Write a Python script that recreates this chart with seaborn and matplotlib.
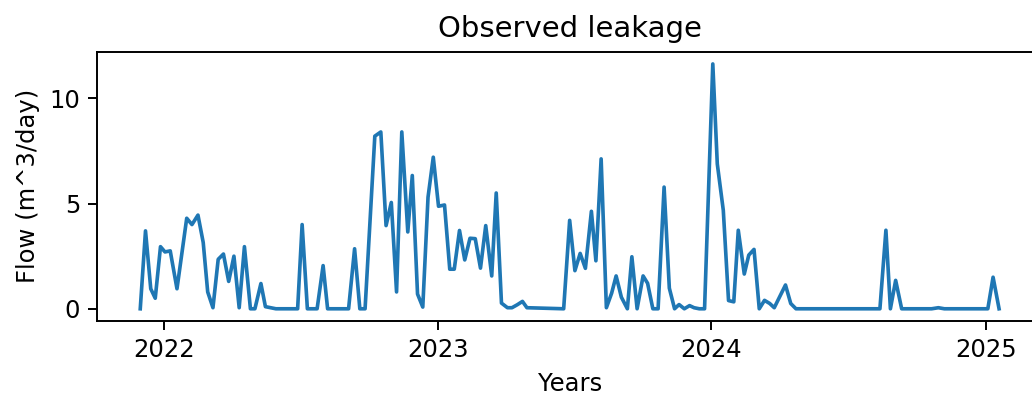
import matplotlib
matplotlib.use("Agg")
import matplotlib.pyplot as plt
import matplotlib.dates as mdates
import pandas as pd
import seaborn as sns

dates = [
    "2021-11-30", "2021-12-07", "2021-12-14", "2021-12-20", "2021-12-27",
    "2022-01-02", "2022-01-09", "2022-01-18", "2022-01-31", "2022-02-07",
    "2022-02-15", "2022-02-22", "2022-02-28", "2022-03-07", "2022-03-14",
    "2022-03-21", "2022-03-28", "2022-04-04", "2022-04-11", "2022-04-18",
    "2022-04-26", "2022-05-02", "2022-05-10", "2022-05-16", "2022-05-23",
    "2022-05-30", "2022-06-28", "2022-07-04", "2022-07-11", "2022-07-24",
    "2022-08-01", "2022-08-07", "2022-09-04", "2022-09-12", "2022-09-19",
    "2022-09-26", "2022-10-09", "2022-10-17", "2022-10-24", "2022-10-31",
    "2022-11-07", "2022-11-14", "2022-11-22", "2022-11-28", "2022-12-05",
    "2022-12-12", "2022-12-19", "2022-12-26", "2023-01-02", "2023-01-10",
    "2023-01-17", "2023-01-23", "2023-01-30", "2023-02-06", "2023-02-13",
    "2023-02-20", "2023-02-27", "2023-03-06", "2023-03-14", "2023-03-20",
    "2023-03-27", "2023-04-04", "2023-04-10", "2023-04-17", "2023-04-24",
    "2023-04-30", "2023-06-18", "2023-06-26", "2023-07-03", "2023-07-10",
    "2023-07-17", "2023-07-25", "2023-07-31", "2023-08-07", "2023-08-14",
    "2023-08-21", "2023-08-27", "2023-09-03", "2023-09-11", "2023-09-17",
    "2023-09-24", "2023-10-02", "2023-10-08", "2023-10-15", "2023-10-22",
    "2023-10-30", "2023-11-06", "2023-11-13", "2023-11-19", "2023-11-26",
    "2023-12-03", "2023-12-09", "2023-12-16", "2023-12-23", "2024-01-03",
    "2024-01-09", "2024-01-17", "2024-01-24", "2024-01-31", "2024-02-06",
    "2024-02-14", "2024-02-20", "2024-02-27", "2024-03-05", "2024-03-12",
    "2024-03-19", "2024-03-25", "2024-04-09", "2024-04-16", "2024-04-23",
    "2024-08-13", "2024-08-21", "2024-08-27", "2024-09-03", "2024-09-11",
    "2024-10-21", "2024-10-30", "2024-11-07", "2025-01-04", "2025-01-11",
    "2025-01-19",
]

flow = [
    0.0, 3.7, 0.95, 0.5, 2.95,
    2.7, 2.75, 0.95, 4.3, 4.0,
    4.45, 3.15, 0.8, 0.05, 2.35,
    2.6, 1.3, 2.5, 0.05, 2.95,
    0.0, 0.0, 1.2, 0.1, 0.05,
    0.0, 0.0, 4.0, 0.0, 0.0,
    2.05, 0.0, 0.0, 2.85, 0.0,
    0.0, 8.2, 8.4, 3.95, 5.05,
    0.8, 8.4, 3.65, 6.33, 0.7,
    0.08, 5.3, 7.2, 4.87, 4.93,
    1.88, 1.88, 3.72, 2.32, 3.35,
    3.33, 1.93, 3.95, 1.56, 5.5,
    0.27, 0.05, 0.05, 0.19, 0.35,
    0.05, 0.0, 4.2, 1.81, 2.63,
    1.92, 4.63, 2.28, 7.12, 0.05,
    0.74, 1.56, 0.55, 0.0, 2.47,
    0.0, 1.56, 1.21, 0.0, 0.0,
    5.78, 0.98, 0.0, 0.2, 0.0,
    0.15, 0.05, 0.0, 0.0, 11.63,
    6.88, 4.68, 0.39, 0.33, 3.73,
    1.65, 2.55, 2.82, 0.0, 0.4,
    0.25, 0.05, 1.13, 0.25, 0.0,
    0.0, 3.73, 0.0, 1.35, 0.0,
    0.0, 0.05, 0.0, 0.0, 1.5,
    0.0,
]

df = pd.DataFrame({"date": pd.to_datetime(dates), "flow": flow})

DPI = 175
fig = plt.figure(figsize=(1032 / DPI, 395 / DPI), dpi=DPI)
ax = fig.add_axes([0.0943, 0.1873, 1.0097 - 0.0943, 0.8691 - 0.1873])

sns.lineplot(data=df, x="date", y="flow", ax=ax, color="#1f77b4", linewidth=1.5)

ax.xaxis.set_major_locator(mdates.YearLocator())
ax.xaxis.set_major_formatter(mdates.DateFormatter("%Y"))
ax.set_yticks([0, 5, 10])
ax.set_xlabel("Years")
ax.set_ylabel("Flow (m^3/day)")
ax.set_title("Observed leakage")

fig.savefig("out.png", dpi=DPI)
